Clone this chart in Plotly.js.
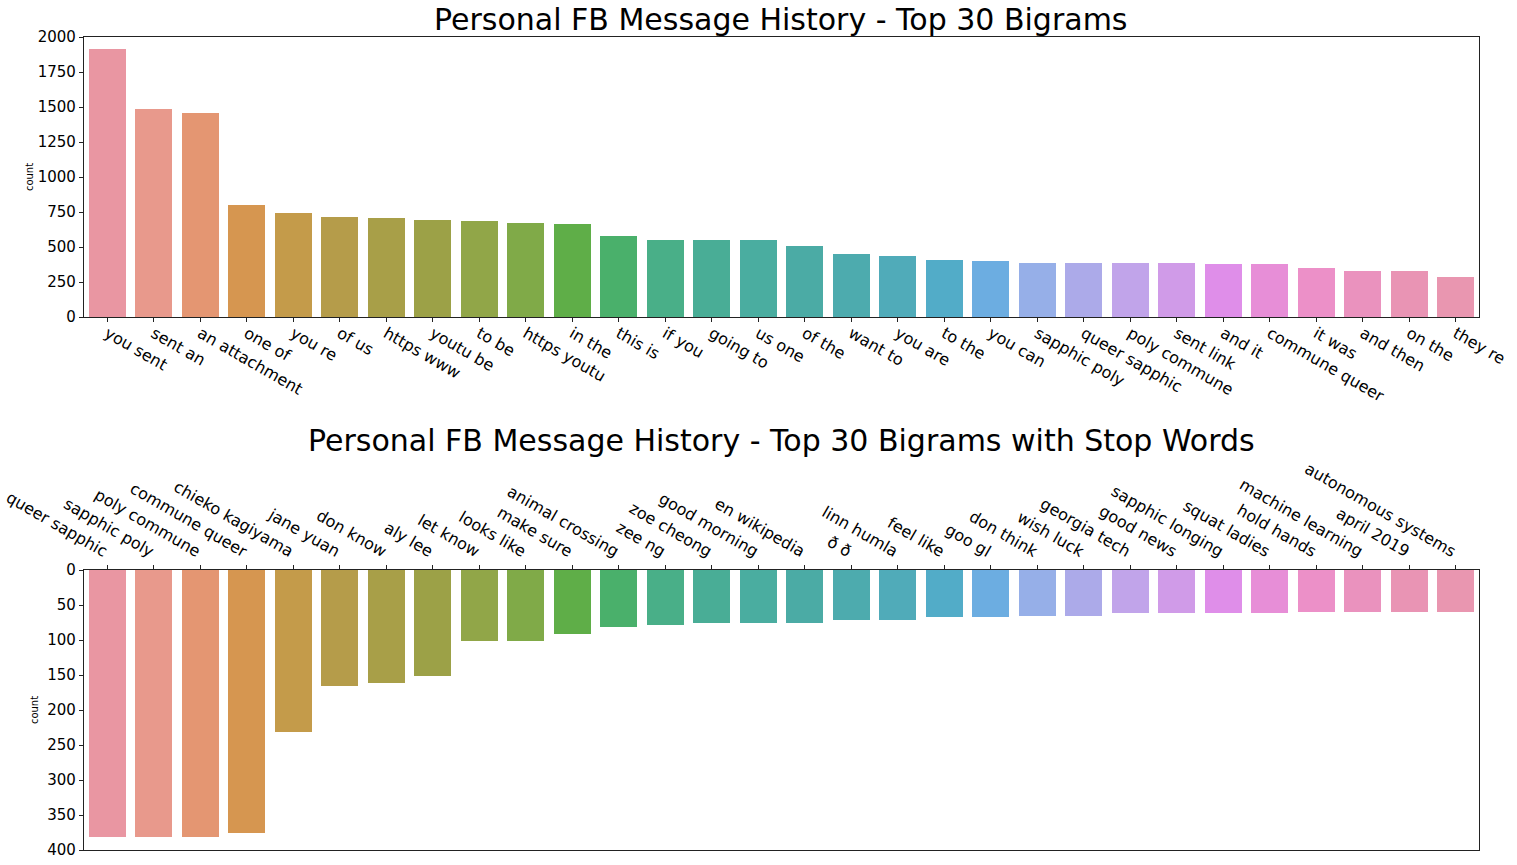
<!DOCTYPE html>
<html>
<head>
<meta charset="utf-8">
<script src="https://cdn.plot.ly/plotly-3.0.1.min.js"></script>
<style>
  html, body { margin: 0; padding: 0; background: #ffffff; }
  #chart { width: 1517px; height: 865px; }
</style>
</head>
<body>
<div id="chart"></div>
<script>
// Top 30 bigrams (stop words removed)
const bigrams = ['you sent', 'sent an', 'an attachment', 'one of', 'you re', 'of us', 'https www',
  'youtu be', 'to be', 'https youtu', 'in the', 'this is', 'if you', 'going to', 'us one', 'of the',
  'want to', 'you are', 'to the', 'you can', 'sapphic poly', 'queer sapphic', 'poly commune',
  'sent link', 'and it', 'commune queer', 'it was', 'and then', 'on the', 'they re']
const bigramCounts = [1912, 1484, 1455, 799, 742, 713, 706, 692, 685, 671, 663, 578, 549, 549, 549,
  506, 449, 435, 407, 400, 385, 385, 385, 385, 378, 378, 350, 328, 328, 285]

// Top 30 bigrams with stop words
const stopBigrams = ['queer sapphic', 'sapphic poly', 'poly commune', 'commune queer', 'chieko kagiyama',
  'jane yuan', 'don know', 'aly lee', 'let know', 'looks like', 'make sure', 'animal crossing', 'zee ng',
  'zoe cheong', 'good morning', 'en wikipedia', 'ð ð', 'linn humla', 'feel like', 'goo gl',
  'don think', 'wish luck', 'georgia tech', 'good news', 'sapphic longing', 'squat ladies',
  'hold hands', 'machine learning', 'april 2019', 'autonomous systems']
const stopCounts = [382, 382, 382, 375, 232, 165, 162, 152, 101, 101, 91, 81, 79, 76, 76,
  75, 71, 71, 67, 67, 65, 65, 62, 62, 61, 61, 60, 60, 60, 60]

const yTicksTop = [0, 250, 500, 750, 1000, 1250, 1500, 1750, 2000]
const yTicksBottom = [0, 50, 100, 150, 200, 250, 300, 350, 400]

// seaborn husl-like palette, one colour per bar
const palette = [
  'rgb(233,150,162)', 'rgb(232,153,140)', 'rgb(228,150,114)', 'rgb(214,150,80)', 'rgb(196,155,74)',
  'rgb(181,156,74)', 'rgb(168,159,72)', 'rgb(156,161,71)', 'rgb(145,166,72)', 'rgb(128,170,72)',
  'rgb(95,174,72)', 'rgb(74,176,107)', 'rgb(73,175,136)', 'rgb(73,173,150)', 'rgb(74,173,160)',
  'rgb(75,171,165)', 'rgb(77,171,174)', 'rgb(80,171,185)', 'rgb(82,172,200)', 'rgb(108,173,225)',
  'rgb(150,175,232)', 'rgb(172,170,233)', 'rgb(193,164,234)', 'rgb(208,155,232)', 'rgb(223,142,233)',
  'rgb(231,142,215)', 'rgb(236,144,200)', 'rgb(234,146,190)', 'rgb(233,148,180)', 'rgb(233,150,176)'
]

const font = 'DejaVu Sans, sans-serif'
const ink = '#000000'

const topTrace = {
  x: bigrams,
  y: bigramCounts,
  type: 'bar',
  width: 0.8,
  marker: { color: palette },
  xaxis: 'x',
  yaxis: 'y',
  hoverinfo: 'x+y'
}

const bottomTrace = {
  x: stopBigrams,
  y: stopCounts,
  type: 'bar',
  width: 0.8,
  marker: { color: palette },
  xaxis: 'x2',
  yaxis: 'y2',
  hoverinfo: 'x+y'
}

const W = 1517
const H = 865
const px = v => v / W
const py = v => 1 - v / H

const axisCommon = {
  showline: true,
  mirror: true,
  linecolor: '#222222',
  linewidth: 1.2,
  ticks: 'outside',
  ticklen: 4,
  tickwidth: 1,
  tickcolor: '#222222',
  showgrid: false,
  zeroline: false,
  fixedrange: true
}

const layout = {
  width: W,
  height: H,
  margin: { l: 0, r: 0, t: 0, b: 0 },
  paper_bgcolor: '#ffffff',
  plot_bgcolor: '#ffffff',
  font: { family: font, color: ink },
  showlegend: false,
  bargap: 0,
  xaxis: Object.assign({}, axisCommon, {
    domain: [px(84), px(1479)],
    anchor: 'y',
    range: [-0.5, 29.5],
    tickangle: 30,
    ticklabelstandoff: -4,
    tickfont: { size: 16, family: font, color: ink }
  }),
  yaxis: Object.assign({}, axisCommon, {
    domain: [py(317), py(37)],
    anchor: 'x',
    range: [0, 2000],
    tickvals: yTicksTop,
    ticktext: yTicksTop.map(String),
    tickfont: { size: 15, family: font, color: ink },
    title: { text: 'count', font: { size: 10, family: font, color: ink }, standoff: 2 }
  }),
  xaxis2: Object.assign({}, axisCommon, {
    domain: [px(84), px(1479)],
    anchor: 'y2',
    side: 'top',
    range: [-0.5, 29.5],
    tickangle: 30,
    tickfont: { size: 16, family: font, color: ink }
  }),
  yaxis2: Object.assign({}, axisCommon, {
    domain: [py(850), py(570)],
    anchor: 'x2',
    range: [400, 0],
    tickvals: yTicksBottom,
    ticktext: yTicksBottom.map(String),
    tickfont: { size: 15, family: font, color: ink },
    title: { text: 'count', font: { size: 10, family: font, color: ink }, standoff: 6 }
  }),
  annotations: [
    {
      text: 'Personal FB Message History - Top 30 Bigrams',
      xref: 'paper', yref: 'paper',
      x: px(781), y: py(20),
      xanchor: 'center', yanchor: 'middle',
      showarrow: false,
      font: { size: 30, family: font, color: ink }
    },
    {
      text: 'Personal FB Message History - Top 30 Bigrams with Stop Words',
      xref: 'paper', yref: 'paper',
      x: px(781), y: py(440),
      xanchor: 'center', yanchor: 'middle',
      showarrow: false,
      font: { size: 30, family: font, color: ink }
    }
  ]
}

const config = {
  displayModeBar: false,
  staticPlot: false
}

Plotly.newPlot('chart', [topTrace, bottomTrace], layout, config)
</script>
</body>
</html>
